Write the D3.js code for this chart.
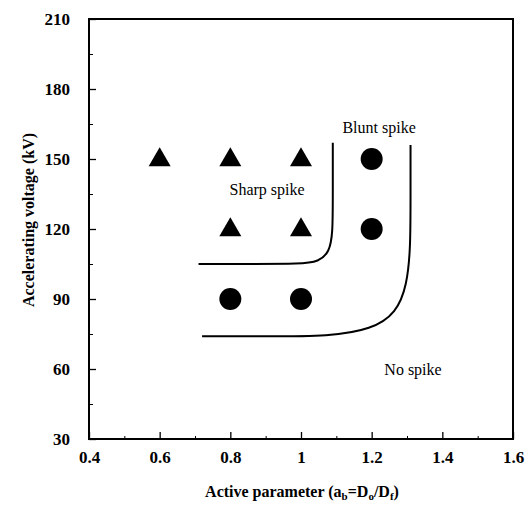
<!DOCTYPE html>
<html>
<head>
<meta charset="utf-8">
<script src="https://cdn.jsdelivr.net/npm/d3@7"></script>
<style>
  body { margin: 0; background: #fff; }
  svg text { font-family: "Liberation Serif", "DejaVu Serif", serif !important; fill: #000; }
</style>
</head>
<body>
<div class="container"></div>
<script>
// chart size and margins
const width = 530;
const height = 507;
const margin = { top: 19, right: 17, bottom: 68, left: 89 };
const serif = "'Liberation Serif', 'DejaVu Serif', serif";

// data
const sharpX = [0.6, 0.8, 1.0, 0.8, 1.0];
const sharpY = [150, 150, 150, 120, 120];
const bluntX = [1.2, 1.2, 0.8, 1.0];
const bluntY = [150, 120, 90, 90];

// boundary lines (drawn by hand in the original)
const line1X = [0.71, 0.85, 1.0, 1.05, 1.08, 1.09, 1.09, 1.09];
const line1Y = [105, 105, 105, 106, 110, 118, 135, 157];
const line2X = [0.72, 0.9, 1.08, 1.2, 1.27, 1.3, 1.31, 1.31, 1.31];
const line2Y = [74, 74, 74, 77, 84, 96, 112, 135, 156];

const xTicks = [0.4, 0.6, 0.8, 1, 1.2, 1.4, 1.6];
const yTicks = [30, 60, 90, 120, 150, 180, 210];

const svg = d3.select(".container")
  .append("svg")
  .attr("width", width)
  .attr("height", height)
  .style("font-family", serif);

const x = d3.scaleLinear().domain([0.4, 1.6]).range([margin.left, width - margin.right]);
const y = d3.scaleLinear().domain([30, 210]).range([height - margin.bottom, margin.top]);

// minor ticks, inward
svg.append("g")
  .attr("transform", `translate(0,${y(30)})`)
  .call(d3.axisBottom(x).tickValues(d3.range(0.5, 1.6, 0.2)).tickSize(-3).tickFormat(""))
  .call(g => g.select(".domain").remove());
svg.append("g")
  .attr("transform", `translate(${x(0.4)},0)`)
  .call(d3.axisLeft(y).tickValues(d3.range(45, 210, 30)).tickSize(-4).tickFormat(""))
  .call(g => g.select(".domain").remove());

// major ticks and labels
svg.append("g")
  .attr("transform", `translate(0,${y(30)})`)
  .call(d3.axisBottom(x).tickValues(xTicks).tickSize(-7).tickPadding(12).tickFormat(d3.format("")))
  .call(g => g.select(".domain").remove())
  .call(g => g.selectAll("line").attr("stroke-width", 1.3))
  .attr("font-family", serif)
  .selectAll("text")
  .style("font-size", "17px")
  .style("font-weight", "bold");
svg.append("g")
  .attr("transform", `translate(${x(0.4)},0)`)
  .call(d3.axisLeft(y).tickValues(yTicks).tickSize(-7).tickPadding(19))
  .call(g => g.select(".domain").remove())
  .call(g => g.selectAll("line").attr("stroke-width", 1.3))
  .attr("font-family", serif)
  .selectAll("text")
  .style("font-size", "17px")
  .style("font-weight", "bold");

// frame
svg.append("rect")
  .attr("x", x(0.4))
  .attr("y", y(210))
  .attr("width", x(1.6) - x(0.4))
  .attr("height", y(30) - y(210))
  .attr("fill", "none")
  .attr("stroke", "#000")
  .attr("stroke-width", 2);

// boundary curves
const line = d3.line()
  .x(d => x(d[0]))
  .y(d => y(d[1]))
  .curve(d3.curveBasis);

[[line1X, line1Y], [line2X, line2Y]].forEach(([xs, ys]) => {
  svg.append("path")
    .attr("d", line(d3.zip(xs, ys)))
    .attr("fill", "none")
    .attr("stroke", "#000")
    .attr("stroke-width", 2);
});

// triangles
const tri = d3.symbol().type(d3.symbolTriangle).size(210);
svg.selectAll(".tri")
  .data(d3.zip(sharpX, sharpY))
  .enter()
  .append("path")
  .attr("class", "tri")
  .attr("d", tri)
  .attr("transform", d => `translate(${x(d[0])},${y(d[1]) + 1})`)
  .attr("fill", "#000");

// circles
svg.selectAll(".dot")
  .data(d3.zip(bluntX, bluntY))
  .enter()
  .append("circle")
  .attr("class", "dot")
  .attr("cx", d => x(d[0]))
  .attr("cy", d => y(d[1]))
  .attr("r", 11)
  .attr("fill", "#000");

// region labels
const labels = [
  { t: "Blunt spike", v: [1.221, 161] },
  { t: "Sharp spike", v: [0.904, 134.6] },
  { t: "No spike", v: [1.317, 57.4] }
];
svg.selectAll(".lab")
  .data(labels)
  .enter()
  .append("text")
  .attr("x", d => x(d.v[0]))
  .attr("y", d => y(d.v[1]))
  .attr("text-anchor", "middle")
  .style("font-size", "16px")
  .text(d => d.t);

// axis titles
svg.append("text")
  .attr("transform", "translate(34,220) rotate(-90)")
  .attr("text-anchor", "middle")
  .style("font-size", "16px")
  .style("font-weight", "bold")
  .text("Accelerating voltage (kV)");

const xt = svg.append("text")
  .attr("x", 302)
  .attr("y", 497)
  .attr("text-anchor", "middle")
  .style("font-size", "16px")
  .style("font-weight", "bold");
xt.append("tspan").text("Active parameter (a");
xt.append("tspan").attr("baseline-shift", "-25%").style("font-size", "11px").text("b");
xt.append("tspan").text("=D");
xt.append("tspan").attr("baseline-shift", "-25%").style("font-size", "11px").text("o");
xt.append("tspan").text("/D");
xt.append("tspan").attr("baseline-shift", "-25%").style("font-size", "11px").text("f");
xt.append("tspan").text(")");
</script>
</body>
</html>
